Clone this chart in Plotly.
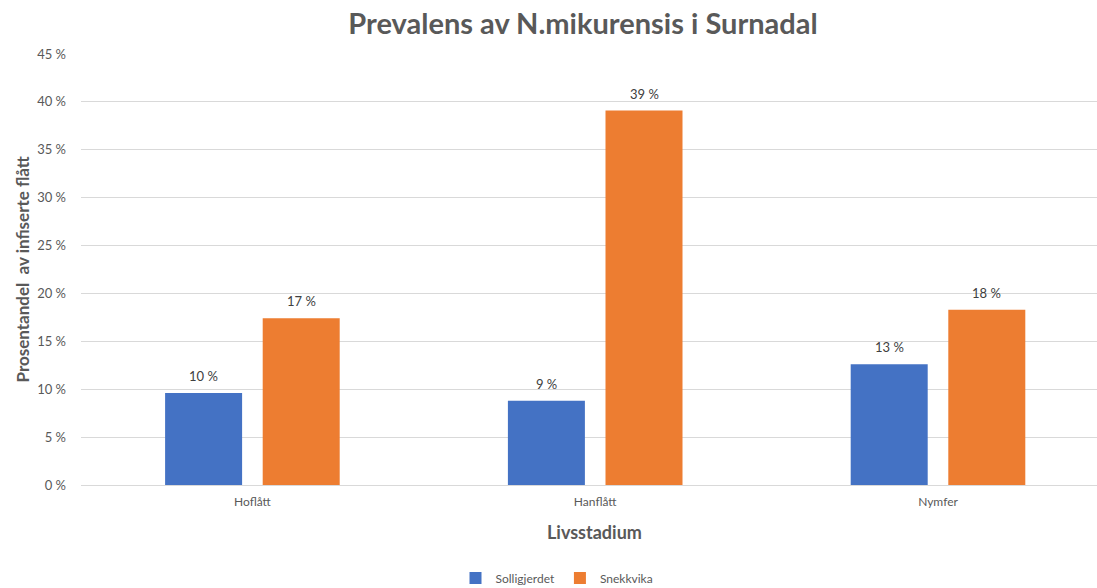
import math
import plotly.graph_objects as go

categories = ["Hoflått", "Hanflått", "Nymfer"]
solligjerdet = [9.6, 8.8, 12.6]
snekkvika = [17.4, 39.1, 18.3]
series_names = ["Solligjerdet", "Snekkvika"]
y_ticks = [0, 5, 10, 15, 20, 25, 30, 35, 40, 45]
y_tick_labels = [f"{v} %" for v in y_ticks]

BLUE = "#4472C4"
ORANGE = "#ED7D31"
TXT = "#595959"
FONT = "Lato"

def pct(v):
    return f"{math.floor(v + 0.5)} %"

fig = go.Figure()
fig.add_trace(go.Bar(x=categories, y=solligjerdet, name=series_names[0],
                     marker=dict(color=BLUE, line=dict(width=0))))
fig.add_trace(go.Bar(x=categories, y=snekkvika, name=series_names[1],
                     marker=dict(color=ORANGE, line=dict(width=0))))

# data labels above bars
slot = 97.6
for vals, shift in ((solligjerdet, -slot / 2), (snekkvika, slot / 2)):
    for c, v in zip(categories, vals):
        fig.add_annotation(x=c, y=v, xref="x", yref="y", text=pct(v),
                           showarrow=False, xshift=shift, yshift=17,
                           font=dict(family=FONT, size=13, color="#404040"))

W, H = 1097, 588
left, top, bottom = 81, 54, 103
cat_px = 342.8
plot_w = W - left
plot_h = H - top - bottom
fig.update_layout(
    width=W, height=H,
    margin=dict(l=left, r=0, t=top, b=bottom, pad=0, autoexpand=False),
    paper_bgcolor="white", plot_bgcolor="white",
    barmode="group", bargap=1 - 2 * slot / cat_px, bargroupgap=1 - 77 / slot,
    font=dict(family=FONT, color=TXT),
    title=dict(text="<b>Prevalens av N.mikurensis i Surnadal</b>",
               x=583 / W, xref="container", xanchor="center",
               y=1 - 24 / H, yref="container", yanchor="middle",
               font=dict(family=FONT, size=29, color=TXT)),
    showlegend=True,
    legend=dict(orientation="h", x=(557 - left) / plot_w, xref="paper", xanchor="center",
                y=-(578 - (H - bottom)) / plot_h, yref="paper", yanchor="middle",
                font=dict(family=FONT, size=12, color=TXT),
                tracegroupgap=0),
    xaxis=dict(range=[-0.5, -0.5 + plot_w / cat_px], showgrid=False,
               showline=False, zeroline=False, ticks="",
               tickfont=dict(family=FONT, size=12, color=TXT),
               ticklabelstandoff=8),
    yaxis=dict(range=[0, 45], tickvals=y_ticks, ticktext=y_tick_labels,
               showgrid=True, gridcolor="#D9D9D9", gridwidth=1,
               zeroline=True, zerolinecolor="#D9D9D9", zerolinewidth=1,
               showline=False, ticks="",
               tickfont=dict(family=FONT, size=13, color=TXT),
               ticklabelstandoff=14),
)

fig.add_annotation(text="<b>Prosentandel  av infiserte flått</b>",
                   xref="paper", yref="paper", x=-(left - 22) / plot_w, y=0.5,
                   textangle=-90, showarrow=False, xanchor="center", yanchor="middle",
                   font=dict(family=FONT, size=17, color=TXT))
fig.add_annotation(text="<b>Livsstadium</b>",
                   xref="paper", yref="paper", x=(594 - left) / plot_w,
                   y=-(532 - (H - bottom)) / plot_h,
                   showarrow=False, xanchor="center", yanchor="middle",
                   font=dict(family=FONT, size=18, color=TXT))

fig.write_html("out.html", config={"displayModeBar": False},
               post_script=("document.documentElement.style.overflow='hidden';"
                            "document.body.style.margin='0px';"
                            "document.body.style.overflow='hidden';"))
